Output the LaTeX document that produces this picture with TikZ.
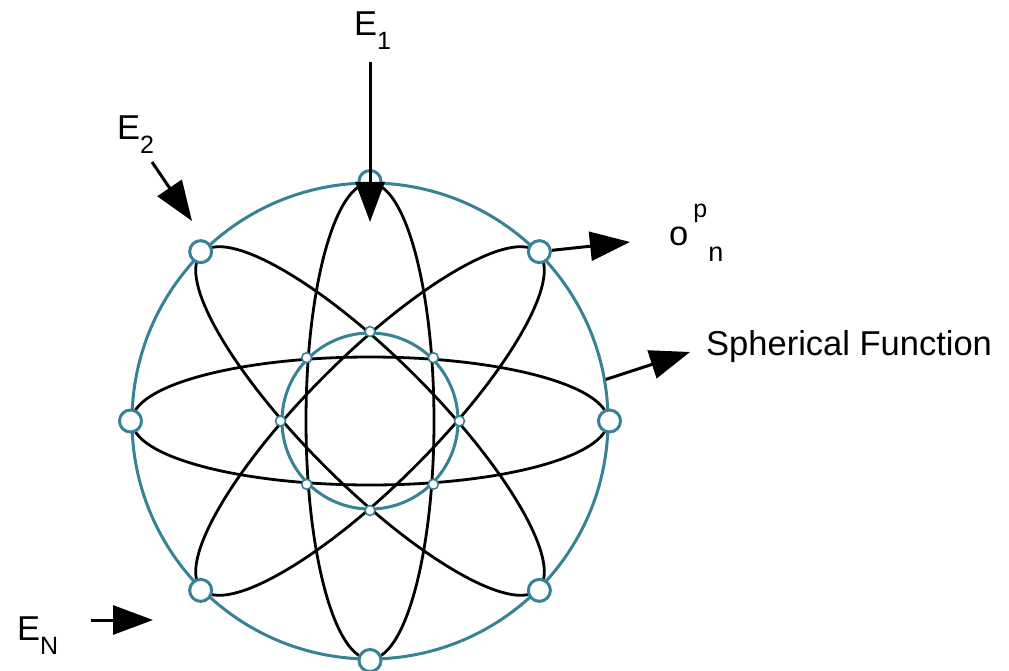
\documentclass[tikz,border=0pt]{standalone}
\usepackage{fontspec}
\setmainfont{Liberation Sans}
\usetikzlibrary{arrows.meta,positioning}
\definecolor{shellteal}{RGB}{55,130,150}
\newcommand{\lowsub}[1]{\raisebox{-14pt}{\fontsize{25}{25}\selectfont #1}}

\begin{document}
\begin{tikzpicture}[x=1pt,y=-1pt,
    shell/.style={draw=shellteal, line width=3pt, circle, inner sep=0pt},
    outerknot/.style={shell, fill=white, minimum size=22pt},
    innerknot/.style={shell, line width=1.6pt, fill=white, minimum size=10pt},
    orbit/.style={line width=2.8pt, black},
    arrow/.style={-{Triangle[length=40pt,width=29pt]}, line width=3pt},
    lbl/.style={anchor=base west, inner sep=0pt, font=\fontsize{34.5}{38}\selectfont}
  ]
  \useasboundingbox (0,0) rectangle (1009,671);
  \coordinate (c) at (370,421);

  % orbits
  \foreach \a in {0,45,90,135}
    \draw[orbit, rotate around={\a:(c)}] (c) ellipse [x radius=238, y radius=64];

  % shells
  \node[shell, minimum size=476pt] (sphere) at (c) {};
  \node[shell, minimum size=176pt] (core) at (c) {};

  \foreach \a/\n in {0/oe,45/one,90/on,135/onw,180/ow,225/osw,270/os,315/ose}
    \node[outerknot] (\n) at (sphere.\a) {};
  \foreach \a/\n in {0/ie,45/ine,90/in,135/inw,180/iw,225/isw,270/is,315/ise}
    \node[innerknot] (\n) at (core.\a) {};

  % labels
  \node[lbl] (e1) at (354,36) {E\lowsub{1}};
  \node[lbl] (e2) at (117,140) {E\lowsub{2}};
  \node[lbl] (en) at (17,640) {E\lowsub{N}};
  \node[lbl] (opn) at (669,245)
    {o\hspace{5pt}\raisebox{28pt}{\fontsize{25}{25}\selectfont p}\hspace{1pt}\raisebox{-17pt}{\fontsize{27}{27}\selectfont n}};
  \node[lbl] (sf) at (706,355) {Spherical Function};

  % arrows
  \coordinate (e1tail) at (370,62);
  \coordinate (e1tip)  at (370,222);
  \coordinate (e2tail) at (152,162);
  \coordinate (e2tip)  at (192,221);
  \coordinate (entail) at (91,620);
  \coordinate (entip)  at (153,620);
  \coordinate (otip)   at (630,242);
  \coordinate (sftip)  at (690,352);

  \draw[arrow] (e1tail) -- (e1tip);
  \draw[arrow] (e2tail) -- (e2tip);
  \draw[arrow] (entail) -- (entip);
  \draw[arrow] (one) -- (otip);
  \draw[arrow] (sphere.10) -- (sftip);
\end{tikzpicture}
\end{document}
